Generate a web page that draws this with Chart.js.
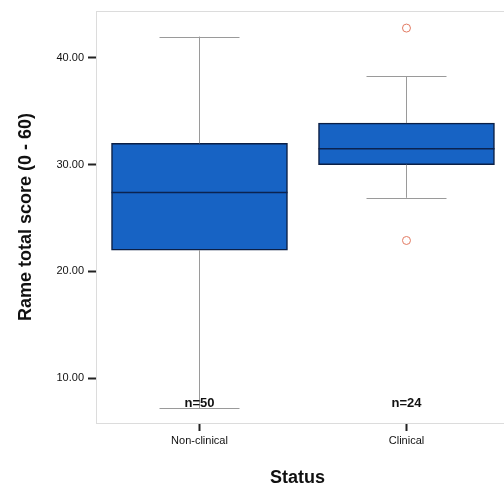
<!DOCTYPE html>
<html>
<head>
<meta charset="utf-8">
<script src="https://cdn.jsdelivr.net/npm/chart.js@4.4.1/dist/chart.umd.min.js"></script>
<style>
  body { margin: 0; background: #fff; }
  #wrap { width: 504px; height: 495px; }
</style>
</head>
<body>
<div id="wrap"><canvas id="boxChart" width="504" height="495"></canvas></div>
<script>
// box plot values
const categories = ['Non-clinical', 'Clinical'];
const positions = [1, 2];
const whiskerLow = [7.2, 26.9];
const q1 = [22.0, 30.0];
const median = [27.4, 31.5];
const q3 = [32.0, 33.9];
const whiskerHigh = [42.0, 38.3];
const outliers = [[], [42.8, 22.9]];
const counts = [50, 24];
const yTicks = [10, 20, 30, 40];

const FONT = "'Liberation Sans', Arial, sans-serif";

const boxData = positions.map((p, i) => ({ x: p, y: [q1[i], q3[i]] }));
const outlierData = [];
outliers.forEach((list, i) => list.forEach(v => outlierData.push({ x: positions[i], y: v })));

const boxExtras = {
    id: 'boxExtras',
    afterDatasetsDraw(chart) {
        const ctx = chart.ctx;
        const xs = chart.scales.x, ys = chart.scales.y;
        const area = chart.chartArea;
        ctx.save();
        // frame top line
        ctx.strokeStyle = '#dcdcdc';
        ctx.lineWidth = 1;
        ctx.beginPath();
        ctx.moveTo(area.left, area.top + 0.5);
        ctx.lineTo(chart.width, area.top + 0.5);
        ctx.moveTo(area.right, area.bottom + 0.5);
        ctx.lineTo(chart.width, area.bottom + 0.5);
        ctx.stroke();

        positions.forEach((p, i) => {
            const x = Math.round(xs.getPixelForValue(p)) + 0.5;
            const cap = 40;
            const half = 88;
            ctx.strokeStyle = '#9a9a9a';
            ctx.lineWidth = 1;
            ctx.beginPath();
            ctx.moveTo(x, ys.getPixelForValue(q3[i]));
            ctx.lineTo(x, ys.getPixelForValue(whiskerHigh[i]));
            ctx.moveTo(x, ys.getPixelForValue(q1[i]));
            ctx.lineTo(x, ys.getPixelForValue(whiskerLow[i]));
            const yh = Math.round(ys.getPixelForValue(whiskerHigh[i])) + 0.5;
            const yl = Math.round(ys.getPixelForValue(whiskerLow[i])) + 0.5;
            ctx.moveTo(x - cap, yh); ctx.lineTo(x + cap, yh);
            ctx.moveTo(x - cap, yl); ctx.lineTo(x + cap, yl);
            ctx.stroke();

            // median
            ctx.strokeStyle = '#0b2350';
            ctx.lineWidth = 1.5;
            const ym = ys.getPixelForValue(median[i]);
            ctx.beginPath();
            ctx.moveTo(x - half, ym); ctx.lineTo(x + half, ym);
            ctx.stroke();

            // n labels
            ctx.fillStyle = '#111';
            ctx.font = 'bold 13px ' + FONT;
            ctx.textAlign = 'center';
            ctx.textBaseline = 'middle';
            ctx.fillText('n=' + counts[i], x, ys.getPixelForValue(7.6));
        });
        ctx.restore();
    }
};

const chart = new Chart(document.getElementById('boxChart'), {
    type: 'bar',
    data: {
        datasets: [{
            type: 'bar',
            data: boxData,
            backgroundColor: '#1763c4',
            borderColor: '#0b1f45',
            borderWidth: 1.5,
            borderSkipped: false,
            barThickness: 176,
            order: 2
        }, {
            type: 'scatter',
            data: outlierData,
            pointStyle: 'circle',
            pointRadius: 4,
            pointBorderWidth: 1,
            pointBorderColor: '#e27a62',
            pointBackgroundColor: '#fff',
            order: 1
        }]
    },
    options: {
        responsive: false,
        animation: false,
        layout: { padding: { top: 11, left: 0, right: 0, bottom: 0 } },
        plugins: {
            legend: { display: false },
            tooltip: { enabled: false }
        },
        scales: {
            x: {
                type: 'linear',
                min: 0.5,
                max: 2.447,
                offset: false,
                afterBuildTicks: s => { s.ticks = positions.map(v => ({ value: v })); },
                afterFit: s => { s.height = 72; },
                grid: { offset: false, drawOnChartArea: false, drawTicks: true, tickLength: 8, tickColor: '#222', tickWidth: 2 },
                border: { color: '#dcdcdc', width: 1 },
                ticks: {
                    padding: 3,
                    color: '#111',
                    font: { family: FONT, size: 11 },
                    callback: v => categories[positions.indexOf(v)] || ''
                },
                title: {
                    display: true,
                    text: 'Status',
                    color: '#111',
                    font: { family: FONT, size: 18, weight: 'bold' },
                    padding: { top: 0, bottom: 6 }
                }
            },
            y: {
                min: 5.8,
                max: 44.4,
                afterBuildTicks: s => { s.ticks = yTicks.map(v => ({ value: v })); },
                afterFit: s => { s.width = 96; },
                grid: { drawOnChartArea: false, drawTicks: true, tickLength: 8, tickColor: '#222', tickWidth: 2 },
                border: { color: '#dcdcdc', width: 1 },
                ticks: {
                    padding: 4,
                    color: '#111',
                    font: { family: FONT, size: 11 },
                    callback: v => v.toFixed(2)
                },
                title: {
                    display: true,
                    text: 'Rame total score (0 - 60)',
                    color: '#111',
                    font: { family: FONT, size: 18, weight: 'bold' },
                    padding: { top: 15, bottom: 0 }
                }
            }
        }
    },
    plugins: [boxExtras]
});
</script>
</body>
</html>
